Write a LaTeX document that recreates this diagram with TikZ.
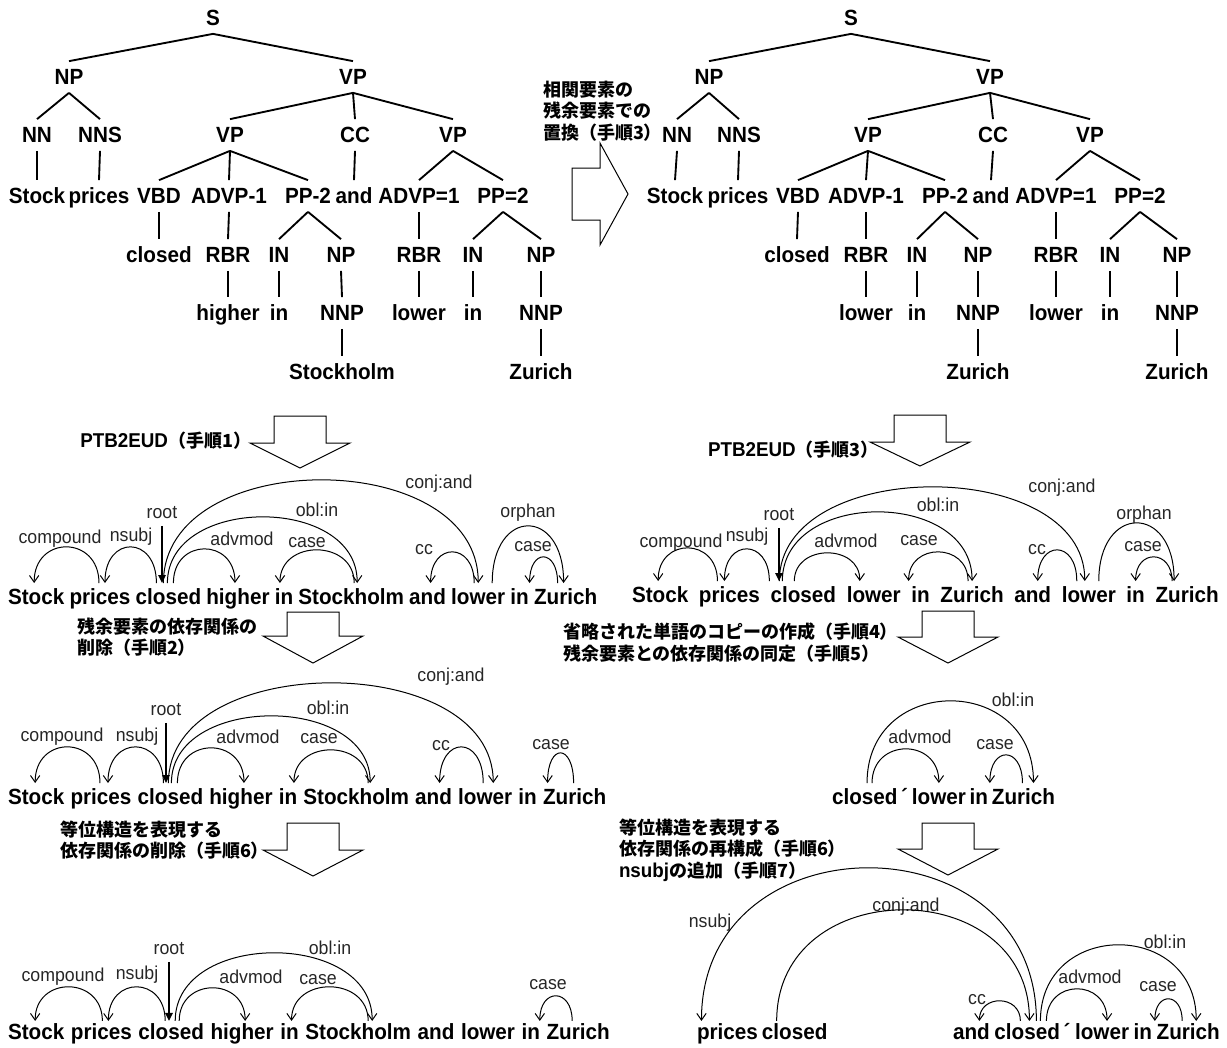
\documentclass[tikz,border=0pt]{standalone}
\usepackage{fontspec}
\usetikzlibrary{arrows.meta,calc,positioning}
\setmainfont{Liberation Sans}
\newfontfamily\wfont{Liberation Sans}[FakeStretch=0.94]
\newfontfamily\lfont{Liberation Sans}[FakeStretch=0.95]
\newfontfamily\jfont{Noto Sans CJK JP}
\newcommand\deparc[5]{\draw[dep] ($(#1.north)+(#2,0)$) .. controls +(0,-#5*4/3) and +(0,-#5*4/3) .. ($(#3.north)+(#4,0)$);}
\newcommand\rootto[2]{\draw[rootarr] ([yshift=-5pt]#1.south) -- (#1.south |- #2.north);}
\newcommand\dnarrow[4]{\draw[blk] (#1-26,#2) -- (#1+26,#2) -- (#1+26,#3) -- (#1+50,#3) -- (#1,#4) -- (#1-50,#3) -- (#1-26,#3) -- cycle;}
\newcommand\lat[1]{{\wfont\fontsize{15}{16}\selectfont #1}}
\begin{document}
\begin{tikzpicture}[x=0.75pt,y=-0.75pt,
  every node/.style={inner sep=0pt,outer sep=0pt},
  tl/.style={font=\wfont\bfseries\fontsize{16.5}{18}\selectfont,text height=11.8pt,text depth=0pt,inner ysep=6pt,inner xsep=0pt},
  wd/.style={tl,inner ysep=4.6pt},
  we/.style={tl,inner ysep=2.4pt},
  lb/.style={font=\lfont\fontsize{14}{15}\selectfont,text=black!85},
  jt/.style={font=\jfont\bfseries\fontsize{13.5}{16}\selectfont,align=left,anchor=north west},
  tree/.style={line width=1.4pt},
  dep/.style={line width=0.75pt,-{Straight Barb[length=5pt,width=7pt]}},
  rootarr/.style={line width=1.6pt,-{Triangle[length=6pt,width=5.5pt]}},
  blk/.style={draw,line width=0.75pt,fill=white,line join=miter}]
\path[use as bounding box] (0,0) rectangle (1227,1047);

% ---------- left tree ----------
\node[tl] (LS) at (213,18) {S};
\node[tl] (LNP) at (69,77) {NP};
\node[tl] (LVP) at (353,77) {VP};
\node[tl] (LNN) at (37,135) {NN};
\node[tl] (LNNS) at (100,135) {NNS};
\node[tl] (LVPa) at (230,135) {VP};
\node[tl] (LCC) at (355,135) {CC};
\node[tl] (LVPb) at (453,135) {VP};
\node[tl] (LStock) at (37,196) {Stock};
\node[tl] (Lprices) at (99,196) {prices};
\node[tl] (LVBD) at (159,196) {VBD};
\node[tl] (LADVPa) at (229,196) {ADVP-1};
\node[tl] (LPPa) at (308,196) {PP-2};
\node[tl] (Land) at (354,196) {and};
\node[tl] (LADVPb) at (419,196) {ADVP=1};
\node[tl] (LPPb) at (503,196) {PP=2};
\node[tl] (Lclosed) at (159,255) {closed};
\node[tl] (LRBRa) at (228,255) {RBR};
\node[tl] (LINa) at (279,255) {IN};
\node[tl] (LNPa) at (341,255) {NP};
\node[tl] (LRBRb) at (419,255) {RBR};
\node[tl] (LINb) at (473,255) {IN};
\node[tl] (LNPb) at (541,255) {NP};
\node[tl] (LadvA) at (228,313) {higher};
\node[tl] (Lina) at (279,313) {in};
\node[tl] (LNNPa) at (342,313) {NNP};
\node[tl] (LadvB) at (419,313) {lower};
\node[tl] (Linb) at (473,313) {in};
\node[tl] (LNNPb) at (541,313) {NNP};
\node[tl] (LleafA) at (342,372) {Stockholm};
\node[tl] (LleafB) at (541,372) {Zurich};

% ---------- right tree ----------
\node[tl] (RS) at (851,18) {S};
\node[tl] (RNP) at (709,77) {NP};
\node[tl] (RVP) at (990,77) {VP};
\node[tl] (RNN) at (677,135) {NN};
\node[tl] (RNNS) at (739,135) {NNS};
\node[tl] (RVPa) at (868,135) {VP};
\node[tl] (RCC) at (993,135) {CC};
\node[tl] (RVPb) at (1090,135) {VP};
\node[tl] (RStock) at (675,196) {Stock};
\node[tl] (Rprices) at (738,196) {prices};
\node[tl] (RVBD) at (798,196) {VBD};
\node[tl] (RADVPa) at (866,196) {ADVP-1};
\node[tl] (RPPa) at (945,196) {PP-2};
\node[tl] (Rand) at (991,196) {and};
\node[tl] (RADVPb) at (1056,196) {ADVP=1};
\node[tl] (RPPb) at (1140,196) {PP=2};
\node[tl] (Rclosed) at (797,255) {closed};
\node[tl] (RRBRa) at (866,255) {RBR};
\node[tl] (RINa) at (917,255) {IN};
\node[tl] (RNPa) at (978,255) {NP};
\node[tl] (RRBRb) at (1056,255) {RBR};
\node[tl] (RINb) at (1110,255) {IN};
\node[tl] (RNPb) at (1177,255) {NP};
\node[tl] (RadvA) at (866,313) {lower};
\node[tl] (Rina) at (917,313) {in};
\node[tl] (RNNPa) at (978,313) {NNP};
\node[tl] (RadvB) at (1056,313) {lower};
\node[tl] (Rinb) at (1110,313) {in};
\node[tl] (RNNPb) at (1177,313) {NNP};
\node[tl] (RleafA) at (978,372) {Zurich};
\node[tl] (RleafB) at (1177,372) {Zurich};

\foreach \p in {L,R}{
  \foreach \a/\b in {S/NP,S/VP,NP/NN,NP/NNS,NN/Stock,NNS/prices,VP/VPa,VP/CC,VP/VPb,
    VPa/VBD,VPa/ADVPa,VPa/PPa,CC/and,VPb/ADVPb,VPb/PPb,VBD/closed,ADVPa/RBRa,
    PPa/INa,PPa/NPa,ADVPb/RBRb,PPb/INb,PPb/NPb,RBRa/advA,INa/ina,NPa/NNPa,
    RBRb/advB,INb/inb,NPb/NNPb,NNPa/leafA,NNPb/leafB}
    \draw[tree] (\p\a.south) -- (\p\b.north);
}

% ---------- block arrows and step texts ----------
\draw[blk] (572,168) -- (600,168) -- (600,143) -- (628,194) -- (600,245) -- (600,220) -- (572,220) -- cycle;
\node[jt] (t1) at (543,81) {相関要素の\\残余要素での\\置換（手順3）};
\dnarrow{300}{416}{443}{468}
\node[jt,anchor=east] (t2) at (251,441) {\lat{PTB2EUD}（手順1）};
\dnarrow{920}{415}{442}{466}
\node[jt,anchor=west] (t3) at (708,450) {\lat{PTB2EUD}（手順3）};
\dnarrow{313}{612}{636}{663}
\node[jt] (t4) at (77,618) {残余要素の依存関係の\\削除（手順2）};
\dnarrow{948}{611}{637}{663}
\node[jt] (t5) at (563,623) {省略された単語のコピーの作成（手順4）\\残余要素との依存関係の同定（手順5）};
\dnarrow{313}{823}{850}{876}
\node[jt] (t6) at (60,821) {等位構造を表現する\\依存関係の削除（手順6）};
\dnarrow{948}{823}{849}{875}
\node[jt] (t7) at (619,819) {等位構造を表現する\\依存関係の再構成（手順6）\\\lat{nsubj}の追加（手順7）};

% ---------- section A ----------
\node[wd,anchor=west] (a1) at (8,597) {Stock};
\node[wd,right=3.9pt of a1] (a2) {prices};
\node[wd,right=3.9pt of a2] (a3) {closed};
\node[wd,right=3.9pt of a3] (a4) {higher};
\node[wd,right=3.9pt of a4] (a5) {in};
\node[wd,right=3.9pt of a5] (a6) {Stockholm};
\node[wd,right=3.9pt of a6] (a7) {and};
\node[wd,right=3.9pt of a7] (a8) {lower};
\node[wd,right=3.9pt of a8] (a9) {in};
\node[wd,right=3.9pt of a9] (a10) {Zurich};
\node[lb] (aL1) at (60,539) {compound};
\node[lb] (aL2) at (131,537) {nsubj};
\node[lb] (aR) at (162,513) {root};
\node[lb] (aL3) at (242,539) {advmod};
\node[lb] (aL4) at (317,510) {obl:in};
\node[lb] (aL5) at (307,543) {case};
\node[lb] (aL6) at (439,484) {conj:and};
\node[lb] (aL7) at (424,550) {cc};
\node[lb] (aL8) at (528,513) {orphan};
\node[lb] (aL9) at (533,547) {case};
\deparc{a2}{-1}{a1}{-2}{36}
\deparc{a3}{-12}{a2}{5}{36}
\deparc{a3}{5}{a4}{-3}{34}
\deparc{a3}{-1}{a6}{6}{66}
\deparc{a6}{3}{a5}{-4}{33}
\deparc{a3}{-5}{a8}{0}{103}
\deparc{a8}{-4}{a7}{3}{31}
\deparc{a8}{14}{a10}{-2}{57}
\deparc{a10}{-8}{a9}{10}{26}
\rootto{aR}{a3}

% ---------- section B ----------
\node[wd,anchor=west] (b1) at (632,595) {Stock};
\node[wd,right=8pt of b1] (b2) {prices};
\node[wd,right=8pt of b2] (b3) {closed};
\node[wd,right=8pt of b3] (b4) {lower};
\node[wd,right=8pt of b4] (b5) {in};
\node[wd,right=8pt of b5] (b6) {Zurich};
\node[wd,right=8pt of b6] (b7) {and};
\node[wd,right=8pt of b7] (b8) {lower};
\node[wd,right=8pt of b8] (b9) {in};
\node[wd,right=8pt of b9] (b10) {Zurich};
\node[lb] (bL1) at (681,543) {compound};
\node[lb] (bL2) at (747,537) {nsubj};
\node[lb] (bR) at (779,515) {root};
\node[lb] (bL3) at (846,541) {advmod};
\node[lb] (bL4) at (938,505) {obl:in};
\node[lb] (bL5) at (919,541) {case};
\node[lb] (bL6) at (1062,488) {conj:and};
\node[lb] (bL7) at (1037,550) {cc};
\node[lb] (bL8) at (1144,515) {orphan};
\node[lb] (bL9) at (1143,547) {case};
\deparc{b2}{-12}{b1}{-2}{33}
\deparc{b3}{-34}{b2}{-5}{32}
\deparc{b3}{-9}{b4}{-14}{28}
\deparc{b3}{-21}{b6}{0}{69}
\deparc{b6}{-4}{b5}{-12}{29}
\deparc{b3}{-24}{b8}{-4}{94}
\deparc{b8}{-12}{b7}{5}{31}
\deparc{b8}{10}{b10}{-13}{58}
\deparc{b10}{-15}{b9}{0}{24}
\rootto{bR}{b3}

% ---------- section C ----------
\node[wd,anchor=west] (c1) at (8,797) {Stock};
\node[wd,right=4.65pt of c1] (c2) {prices};
\node[wd,right=4.65pt of c2] (c3) {closed};
\node[wd,right=4.65pt of c3] (c4) {higher};
\node[wd,right=4.65pt of c4] (c5) {in};
\node[wd,right=4.65pt of c5] (c6) {Stockholm};
\node[wd,right=4.65pt of c6] (c7) {and};
\node[wd,right=4.65pt of c7] (c8) {lower};
\node[wd,right=4.65pt of c8] (c9) {in};
\node[wd,right=4.65pt of c9] (c10) {Zurich};
\node[lb] (cL1) at (62,737) {compound};
\node[lb] (cL2) at (137,737) {nsubj};
\node[lb] (cR) at (166,710) {root};
\node[lb] (cL3) at (248,737) {advmod};
\node[lb] (cL4) at (328,708) {obl:in};
\node[lb] (cL5) at (319,739) {case};
\node[lb] (cL6) at (451,677) {conj:and};
\node[lb] (cL7) at (441,746) {cc};
\node[lb] (cL8) at (551,745) {case};
\deparc{c2}{-1}{c1}{-1}{36}
\deparc{c3}{-7}{c2}{7}{36}
\deparc{c3}{7}{c4}{3}{35}
\deparc{c3}{1}{c6}{14}{67}
\deparc{c6}{12}{c5}{6}{33}
\deparc{c3}{-2}{c8}{8}{100}
\deparc{c8}{-2}{c7}{6}{36}
\deparc{c10}{-1}{c9}{20}{30}
\rootto{cR}{c3}

% ---------- section D ----------
\node[wd,anchor=west] (d1) at (832,797) {closed\,´};
\node[wd,right=2.85pt of d1] (d2) {lower};
\node[wd,right=2.85pt of d2] (d3) {in};
\node[wd,right=2.85pt of d3] (d4) {Zurich};
\node[lb] (dL1) at (1013,700) {obl:in};
\node[lb] (dL2) at (920,737) {advmod};
\node[lb] (dL3) at (995,745) {case};
\deparc{d1}{-3}{d4}{10}{82}
\deparc{d1}{2}{d2}{0}{34}
\deparc{d4}{-1}{d3}{11}{28}

% ---------- section E ----------
\node[we,anchor=west] (e1) at (8,1032) {Stock};
\node[we,right=4.95pt of e1] (e2) {prices};
\node[we,right=4.95pt of e2] (e3) {closed};
\node[we,right=4.95pt of e3] (e4) {higher};
\node[we,right=4.95pt of e4] (e5) {in};
\node[we,right=4.95pt of e5] (e6) {Stockholm};
\node[we,right=4.95pt of e6] (e7) {and};
\node[we,right=4.95pt of e7] (e8) {lower};
\node[we,right=4.95pt of e8] (e9) {in};
\node[we,right=4.95pt of e9] (e10) {Zurich};
\node[lb] (eL1) at (63,977) {compound};
\node[lb] (eL2) at (137,975) {nsubj};
\node[lb] (eR) at (169,949) {root};
\node[lb] (eL3) at (251,977) {advmod};
\node[lb] (eL4) at (330,948) {obl:in};
\node[lb] (eL5) at (318,980) {case};
\node[lb] (eL6) at (548,985) {case};
\deparc{e2}{1}{e1}{-1}{34}
\deparc{e3}{-6}{e2}{7}{34}
\deparc{e3}{8}{e4}{3}{33}
\deparc{e3}{4}{e6}{14}{68}
\deparc{e6}{10}{e5}{2}{34}
\deparc{e10}{-6}{e9}{9}{25}
\rootto{eR}{e3}

% ---------- section F ----------
\node[we,anchor=west] (f1) at (697,1032) {prices};
\node[we,right=3pt of f1] (f2) {closed};
\node[we,anchor=west] (f3) at (953,1032) {and};
\node[we,right=3.45pt of f3] (f4) {closed\,´};
\node[we,right=3.45pt of f4] (f5) {lower};
\node[we,right=3.45pt of f5] (f6) {in};
\node[we,right=3.45pt of f6] (f7) {Zurich};
\node[lb] (fL1) at (710,923) {nsubj};
\node[lb] (fL2) at (906,907) {conj:and};
\node[lb] (fL3) at (977,1000) {cc};
\node[lb] (fL4) at (1165,942) {obl:in};
\node[lb] (fL5) at (1090,977) {advmod};
\node[lb] (fL6) at (1158,987) {case};
\deparc{f4}{4}{f1}{-26}{153}
\deparc{f2}{-18}{f4}{-3}{111}
\deparc{f4}{-12}{f3}{8}{20}
\deparc{f4}{8}{f7}{8}{76}
\deparc{f4}{14}{f5}{5}{32}
\deparc{f7}{-6}{f6}{12}{22}
\end{tikzpicture}
\end{document}
